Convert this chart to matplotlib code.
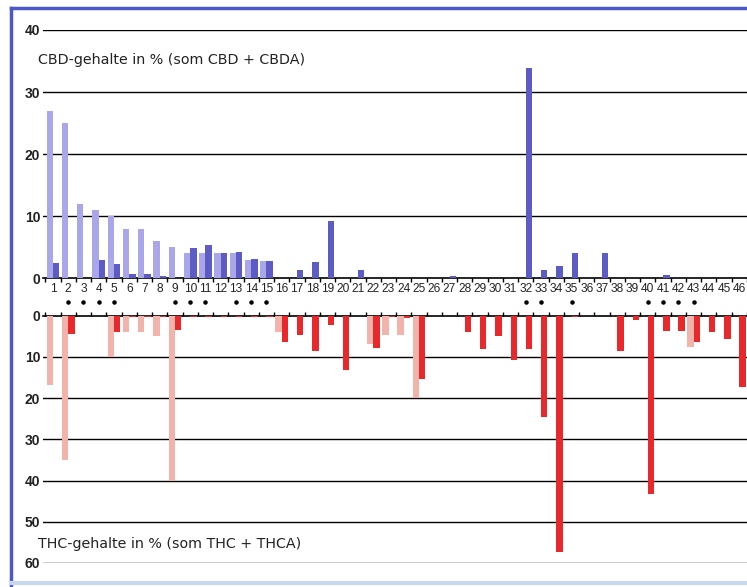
""" CBD / THC gehalte """
import numpy as np
import matplotlib
matplotlib.use("Agg")
import matplotlib.pyplot as plt
from matplotlib import font_manager
from matplotlib.lines import Line2D
from matplotlib.transforms import blended_transform_factory

categories = list(range(1, 47))

# CBD (%): light = opgegeven, dark = gemeten
cbd_claimed = [27, 25, 12, 11, 10, 8, 8, 6, 5, 4, 4, 4, 4, 3, 2.8, 0,
               0, 0, 0, 0, 0, 0, 0, 0, 0, 0, 0, 0, 0, 0, 0, 0,
               0, 0, 0, 0, 0, 0, 0, 0, 0, 0, 0, 0, 0, 0]
cbd_measured = [2.4, 0, 0.1, 2.9, 2.3, 0.7, 0.7, 0.3, 0, 4.8, 5.3, 4.0, 4.3, 3.1, 2.8, 0.1,
                1.4, 2.6, 9.2, 0, 1.3, 0, 0, 0, 0, 0, 0.3, 0, 0, 0, 0, 33.9,
                1.4, 1.9, 4.0, 0, 4.0, 0, 0, 0.1, 0.5, 0, 0, 0, 0, 0]

# THC (%)
thc_claimed = [16.8, 35, 0, 0, 10, 4, 4, 5, 40, 0, 0, 0, 0, 0, 0, 4,
               0, 0, 0, 0, 0, 6.8, 4.7, 4.7, 20, 0, 0, 0, 0, 0, 0, 0,
               0, 0, 0, 0, 0, 0, 0, 0, 0, 0, 7.5, 0, 0, 0]
thc_measured = [0, 4.4, 0, 0, 3.9, 0.3, 0.2, 0.2, 3.5, 0.2, 0.2, 0.2, 0.2, 0.3, 0.2, 6.3,
                4.7, 8.5, 2.3, 13.1, 0, 7.9, 0.2, 0.6, 15.4, 0, 0, 4.0, 8.1, 4.9, 10.7, 8.1,
                24.6, 57.3, 0.3, 0, 0, 8.5, 1.0, 43.2, 3.6, 3.6, 6.5, 3.9, 5.6, 17.4]

marked = [2, 3, 4, 5, 9, 10, 11, 13, 14, 15, 32, 33, 35, 40, 41, 42, 43]

# smalle letter als die er is
def has_font(name):
    try:
        font_manager.findfont(name, fallback_to_default=False)
        return True
    except ValueError:
        return False

if has_font("Liberation Sans Narrow"):
    num_font, num_size = "Liberation Sans Narrow", 10.5
else:
    num_font, num_size = "Liberation Sans", 8.6

plt.rcParams["font.family"] = ["DejaVu Sans"]

fig = plt.figure(figsize=(7.47, 5.87), dpi=100)
x = np.array(categories)
w = 0.42

ax1 = fig.add_axes([0.0576, 0.526, 0.9424, 0.423])
ax1.bar(x - w / 2, cbd_claimed, w, color="#a9a7ea", zorder=3)
ax1.bar(x + w / 2, cbd_measured, w, color="#5d5bc4", zorder=3)
ax1.set_ylim(0, 40)
ax1.set_xlim(0.35, 46.26)
for v in [10, 20, 30, 40]:
    ax1.axhline(v, color="black", lw=1.0, zorder=1)
ax1.set_yticks([0, 10, 20, 30, 40])
ax1.set_yticklabels(["0", "10", "20", "30", "40"], fontsize=10, color="#222222",
                    family=num_font, weight="bold")
ax1.set_xticks(x)
ax1.set_xticklabels([str(c) for c in categories], fontsize=num_size, color="#222222",
                    family=num_font)
ax1.set_xticks(np.arange(0.5, 47, 1), minor=True)
ax1.tick_params(axis="x", which="major", length=0, pad=3.5)
ax1.tick_params(axis="x", which="minor", length=3, width=1, direction="out")
ax1.tick_params(axis="y", length=0, pad=2)
for s in ["top", "right", "left"]:
    ax1.spines[s].set_visible(False)
ax1.spines["bottom"].set_linewidth(1.2)
ax1.text(0.004, 35.2, "CBD-gehalte in % (som CBD + CBDA)", fontsize=10.3,
         va="center", ha="left", color="#222222")
tr = blended_transform_factory(ax1.transData, ax1.transAxes)
ax1.scatter(marked, [-0.097] * len(marked), s=5, color="black",
            transform=tr, clip_on=False)

ax2 = fig.add_axes([0.0576, 0.0409, 0.9424, 0.4213])
ax2.bar(x - w / 2, thc_claimed, w, color="#f2b4aa", zorder=3)
ax2.bar(x + w / 2, thc_measured, w, color="#e8282a", zorder=3)
ax2.set_ylim(60, 0)
ax2.set_xlim(0.35, 46.26)
for v in [10, 20, 30, 40, 50, 60]:
    ax2.axhline(v, color="black", lw=1.0, zorder=1)
ax2.set_yticks([0, 10, 20, 30, 40, 50, 60])
ax2.set_yticklabels(["0", "10", "20", "30", "40", "50", "60"], fontsize=10,
                    color="#222222", family=num_font, weight="bold")
ax2.set_xticks(np.arange(0.5, 47, 1), minor=True)
ax2.set_xticks([])
ax2.xaxis.set_ticks_position("top")
ax2.tick_params(axis="x", which="minor", length=3, width=1, direction="out", top=True)
ax2.tick_params(axis="y", length=0, pad=2)
for s in ["bottom", "right", "left"]:
    ax2.spines[s].set_visible(False)
ax2.spines["top"].set_linewidth(1.2)
ax2.text(-0.004, 55.4, "THC-gehalte in % (som THC + THCA)", fontsize=10.3,
         va="center", ha="left", color="#222222")

# blauwe kader
fig.add_artist(Line2D([0.015, 0.015], [0.0, 0.987], color="#4a58c8", lw=2.5))
fig.add_artist(Line2D([0.015, 1.0], [0.987, 0.987], color="#4a58c8", lw=2.5))
fig.add_artist(Line2D([0.015, 1.0], [0.006, 0.006], color="#c8d8f0", lw=3))

fig.savefig("out.png", dpi=100)
